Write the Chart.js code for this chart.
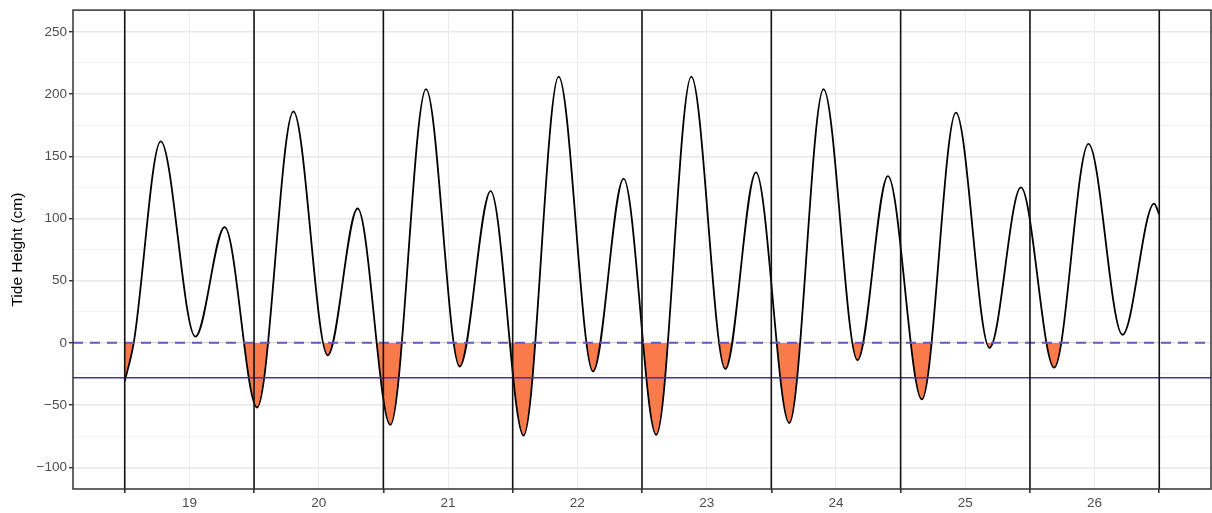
<!DOCTYPE html>
<html>
<head>
<meta charset="utf-8">
<title>Tide Height</title>
<script src="https://cdn.jsdelivr.net/npm/chart.js@4/dist/chart.umd.min.js"></script>
<style>
  html, body { margin: 0; padding: 0; background: #ffffff; }
  #wrap { width: 1212px; height: 513px; }
</style>
</head>
<body>
<div id="wrap"><canvas id="tide" width="1212" height="513"></canvas></div>
<script>
// Day numbers shown under each day, labelled at noon
const dayLabels = ['19', '20', '21', '22', '23', '24', '25', '26'];
// Hours since 00:00 on day 19
const dayBoundaryHours = [0, 24, 48, 72, 96, 120, 144, 168, 192];
const dayNoonHours = [12, 36, 60, 84, 108, 132, 156, 180];

// Tide curve: turning points (highs and lows) plus the start and end of the record
const tideHours = [
  0, 1.67, 6.68, 13.12, 18.55, 24.57, 31.30, 37.67, 43.23, 49.30,
  55.92, 62.16, 67.91, 74.03, 80.53, 86.91, 92.59, 98.65, 105.15, 111.46,
  117.15, 123.33, 129.69, 136.00, 141.64, 147.95, 154.26, 160.49, 166.32, 172.50,
  178.86, 185.17, 191.05, 192.0
];
const tideHeights = [
  -31, 0, 162, 5, 93, -52, 186, -10, 108, -66,
  204, -19, 122, -74.5, 214, -23, 132, -74, 214, -21,
  137, -64.5, 204, -14, 134, -45.5, 185, -4, 125, -20,
  160, 6.5, 112, 103
];

// Reference levels (cm)
const datumLevel = 0;
const thresholdLevel = -28;

// Axis ticks and limits
const yTickValues = [-100, -75, -50, -25, 0, 25, 50, 75, 100, 125, 150, 175, 200, 225, 250];
const yLimits = [-117.5, 267.5];
const xLimits = [-9.6, 201.6];

const xTickHours = dayBoundaryHours.concat(dayNoonHours).sort((a, b) => a - b);
const isBoundary = v => dayBoundaryHours.includes(v);
const isMajorY = v => v % 50 === 0;
const fmtNum = v => (v < 0 ? '\u2212' + Math.abs(v) : String(v));

Chart.defaults.font.family = "'Liberation Sans', Arial, Helvetica, sans-serif";

// Black vertical rules at each midnight, drawn above the tide fill
const dayLines = {
  id: 'dayLines',
  afterDatasetsDraw(chart) {
    const { ctx, chartArea: a, scales: { x } } = chart;
    ctx.save();
    ctx.strokeStyle = '#111111';
    ctx.lineWidth = 1.6;
    dayBoundaryHours.forEach(h => {
      const px = x.getPixelForValue(h);
      ctx.beginPath();
      ctx.moveTo(px, a.top);
      ctx.lineTo(px, a.bottom);
      ctx.stroke();
    });
    ctx.restore();
  }
};

// Frame round the plotting panel
const panelBorder = {
  id: 'panelBorder',
  afterDraw(chart) {
    const { ctx, chartArea: a } = chart;
    ctx.save();
    ctx.strokeStyle = '#333333';
    ctx.lineWidth = 1.5;
    ctx.strokeRect(a.left, a.top, a.right - a.left, a.bottom - a.top);
    ctx.restore();
  }
};

const tidePoints = tideHours.map((h, i) => ({ x: h, y: tideHeights[i] }));
const levelLine = level => [{ x: xLimits[0], y: level }, { x: xLimits[1], y: level }];

new Chart(document.getElementById('tide'), {
  type: 'line',
  data: {
    datasets: [
      {
        label: 'Tide height',
        data: tidePoints,
        borderColor: '#000000',
        borderWidth: 1.8,
        pointRadius: 0,
        cubicInterpolationMode: 'monotone',
        fill: { target: { value: datumLevel }, above: 'rgba(0,0,0,0)', below: '#F97B4B' },
        order: 3
      },
      {
        label: 'Datum',
        data: levelLine(datumLevel),
        borderColor: '#6659B9',
        borderWidth: 2,
        borderDash: [10, 7],
        pointRadius: 0,
        fill: false,
        order: 2
      },
      {
        label: 'Threshold',
        data: levelLine(thresholdLevel),
        borderColor: '#4634A6',
        borderWidth: 1.5,
        pointRadius: 0,
        fill: false,
        order: 1
      }
    ]
  },
  options: {
    responsive: false,
    animation: false,
    devicePixelRatio: 1,
    layout: { padding: { top: 7, right: 1, bottom: 0, left: 0 } },
    plugins: {
      legend: { display: false },
      tooltip: { enabled: false }
    },
    scales: {
      x: {
        type: 'linear',
        min: xLimits[0],
        max: xLimits[1],
        afterBuildTicks: s => { s.ticks = xTickHours.map(v => ({ value: v })); },
        afterFit: s => { s.height = 24; },
        border: { display: false },
        grid: {
          color: c => (c.tick && isBoundary(c.tick.value) ? 'rgba(0,0,0,0)' : '#EBEBEB'),
          lineWidth: c => (c.tick && isBoundary(c.tick.value) ? 1.6 : 1),
          tickColor: c => (c.tick && isBoundary(c.tick.value) ? '#333333' : 'rgba(0,0,0,0)'),
          tickLength: 4
        },
        ticks: {
          autoSkip: false,
          maxRotation: 0,
          padding: 2,
          color: '#4D4D4D',
          font: { size: 13.5 },
          callback: v => {
            const i = dayNoonHours.indexOf(v);
            return i >= 0 ? dayLabels[i] : '';
          }
        }
      },
      y: {
        type: 'linear',
        min: yLimits[0],
        max: yLimits[1],
        afterBuildTicks: s => { s.ticks = yTickValues.map(v => ({ value: v })); },
        afterFit: s => { s.width = 73; },
        border: { display: false },
        grid: {
          color: c => (c.tick && isMajorY(c.tick.value) ? '#E8E8E8' : '#F1F1F1'),
          lineWidth: c => (c.tick && isMajorY(c.tick.value) ? 1.4 : 0.9),
          tickColor: c => (c.tick && isMajorY(c.tick.value) ? '#333333' : 'rgba(0,0,0,0)'),
          tickLength: 4
        },
        ticks: {
          padding: 2,
          color: '#4D4D4D',
          font: { size: 13.5 },
          callback: v => (isMajorY(v) ? fmtNum(v) : '')
        },
        title: {
          display: true,
          text: 'Tide Height (cm)',
          color: '#000000',
          font: { size: 15.5 },
          padding: { top: 8, bottom: 0 }
        }
      }
    }
  },
  plugins: [dayLines, panelBorder]
});
</script>
</body>
</html>
